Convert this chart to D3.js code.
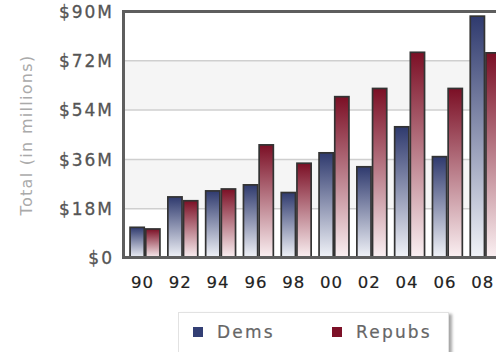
<!DOCTYPE html>
<html>
<head>
<meta charset="utf-8">
<script src="https://cdn.jsdelivr.net/npm/d3@7"></script>
<style>
  html, body { margin: 0; padding: 0; background: #fff; }
  svg { display: block; }
  text { font-family: "DejaVu Sans", Verdana, sans-serif; }
</style>
</head>
<body>
<svg id="chart" width="496" height="352"></svg>
<script>
const years = ["90", "92", "94", "96", "98", "00", "02", "04", "06", "08"];
const seriesNames = ["Dems", "Repubs"];
const dems = [11.2, 22.3, 24.5, 26.7, 23.9, 38.4, 33.3, 47.9, 37.0, 88.3];
const repubs = [10.6, 20.9, 25.2, 41.3, 34.6, 58.9, 61.9, 75.1, 61.9, 74.9];
const yTicks = [0, 18, 36, 54, 72, 90];
const yTickLabels = ["$0", "$18M", "$36M", "$54M", "$72M", "$90M"];
const yTitle = "Total (in millions)";

const svg = d3.select("#chart");
const plot = { left: 123.5, top: 11.5, bottom: 257.5, right: 520 };

const y = d3.scaleLinear().domain([0, 90]).range([258, 11.5]);
const x0 = d3.scaleBand().domain(years).range([126.1, 504.1]).paddingInner(0.17).paddingOuter(0.085);
const x1 = d3.scaleBand().domain(seriesNames).range([0, x0.bandwidth()]);

const defs = svg.append("defs");
const grads = [
  { id: "gDems", top: "#2f3a6e", bottom: "#f2f4f9" },
  { id: "gRepubs", top: "#7b0f25", bottom: "#fbf1f3" }
];
grads.forEach(g => {
  const lg = defs.append("linearGradient").attr("id", g.id)
    .attr("x1", 0).attr("y1", 0).attr("x2", 0).attr("y2", 1);
  lg.append("stop").attr("offset", "0%").attr("stop-color", g.top);
  lg.append("stop").attr("offset", "100%").attr("stop-color", g.bottom);
});
const shadow = defs.append("filter").attr("id", "shadow").attr("x", "-10%").attr("y", "-10%").attr("width", "130%").attr("height", "140%");
shadow.append("feGaussianBlur").attr("in", "SourceAlpha").attr("stdDeviation", 1.5);
shadow.append("feOffset").attr("dx", 3).attr("dy", 2).attr("result", "ob");
shadow.append("feComponentTransfer").append("feFuncA").attr("type", "linear").attr("slope", 0.35);
const fm = shadow.append("feMerge");
fm.append("feMergeNode");
fm.append("feMergeNode").attr("in", "SourceGraphic");

// alternating bands
const bandPairs = d3.pairs(yTicks);
svg.append("g").selectAll("rect").data(bandPairs).join("rect")
  .attr("x", plot.left)
  .attr("width", plot.right - plot.left)
  .attr("y", d => y(d[1]))
  .attr("height", d => y(d[0]) - y(d[1]))
  .attr("fill", (d, i) => i % 2 === 1 ? "#f5f5f5" : "#ffffff");

// gridlines
svg.append("g").selectAll("line").data(yTicks.slice(1, -1)).join("line")
  .attr("x1", plot.left).attr("x2", plot.right)
  .attr("y1", d => y(d)).attr("y2", d => y(d))
  .attr("stroke", "#cfcfcf").attr("stroke-width", 1.5);

// bars
const groups = svg.append("g").selectAll("g").data(years).join("g")
  .attr("transform", d => `translate(${x0(d)},0)`);
groups.selectAll("rect").data((d, i) => [
  { s: "Dems", v: dems[i] }, { s: "Repubs", v: repubs[i] }
]).join("rect")
  .attr("x", d => x1(d.s) + 0.75)
  .attr("width", x1.bandwidth() - 1.5)
  .attr("y", d => y(d.v))
  .attr("height", d => y(0) - y(d.v))
  .attr("fill", d => d.s === "Dems" ? "url(#gDems)" : "url(#gRepubs)")
  .attr("stroke", "#333").attr("stroke-width", 1.7);

// frame
svg.append("line").attr("x1", plot.left).attr("x2", plot.right).attr("y1", plot.top).attr("y2", plot.top)
  .attr("stroke", "#5e5e5e").attr("stroke-width", 3);
svg.append("line").attr("x1", plot.left).attr("x2", plot.right).attr("y1", plot.bottom).attr("y2", plot.bottom)
  .attr("stroke", "#5e5e5e").attr("stroke-width", 3);
svg.append("line").attr("x1", plot.left).attr("x2", plot.left).attr("y1", plot.top - 1.5).attr("y2", plot.bottom + 1.5)
  .attr("stroke", "#5e5e5e").attr("stroke-width", 3);

// y axis labels
const yLS = 2;
svg.append("g").selectAll("text").data(yTicks).join("text")
  .attr("x", 112 + yLS)
  .attr("y", d => y(d))
  .attr("dy", "0.36em")
  .attr("text-anchor", "end")
  .attr("font-size", 17)
  .attr("letter-spacing", yLS)
  .attr("fill", "#555")
  .attr("stroke", "#555").attr("stroke-width", 0.3)
  .text((d, i) => yTickLabels[i]);

// x axis labels
const xLS = 1;
const xAxis = d3.axisBottom(x0).tickSize(0).tickPadding(0);
const xg = svg.append("g").attr("transform", `translate(${-3 + xLS / 2},${282})`).call(xAxis);
xg.select(".domain").remove();
xg.selectAll("text")
  .attr("font-family", "DejaVu Sans, Verdana, sans-serif")
  .attr("font-size", 16.5)
  .attr("letter-spacing", xLS)
  .attr("fill", "#222")
  .attr("stroke", "#222").attr("stroke-width", 0.2)
  .attr("dy", "0.36em");

// y title
svg.append("text")
  .attr("transform", "translate(26,135) rotate(-90)")
  .attr("text-anchor", "middle")
  .attr("dy", "0.36em")
  .attr("font-size", 16)
  .attr("letter-spacing", 1.3)
  .attr("fill", "#aaa")
  .text(yTitle);

// legend
const lg = svg.append("g");
lg.append("rect").attr("x", 178.5).attr("y", 312.5).attr("width", 270).attr("height", 50)
  .attr("fill", "#fff").attr("stroke", "#e2e2e2").attr("filter", "url(#shadow)");
const legendItems = [
  { name: seriesNames[0], color: "#333f74", sx: 193, tx: 217 },
  { name: seriesNames[1], color: "#7d1128", sx: 332, tx: 356 }
];
legendItems.forEach(it => {
  lg.append("rect").attr("x", it.sx).attr("y", 327).attr("width", 10).attr("height", 10).attr("fill", it.color);
  lg.append("text").attr("x", it.tx).attr("y", 332).attr("dy", "0.36em")
    .attr("font-size", 17).attr("letter-spacing", 2.2).attr("fill", "#666")
    .attr("stroke", "#666").attr("stroke-width", 0.2).text(it.name);
});
</script>
</body>
</html>
